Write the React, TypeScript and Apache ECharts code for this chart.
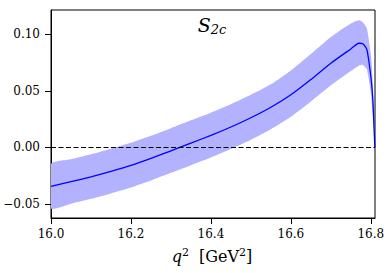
import React, { useEffect, useRef } from "react";
import * as echarts from "echarts";

const qSquared = [16.0, 16.05, 16.1, 16.15, 16.2, 16.25, 16.3, 16.35, 16.4, 16.45, 16.5, 16.55, 16.6, 16.65, 16.7, 16.75, 16.77, 16.78, 16.79, 16.8, 16.805, 16.81];
const central = [-0.0344, -0.0303, -0.026, -0.0212, -0.016, -0.0098, -0.003, 0.0038, 0.0106, 0.018, 0.0262, 0.0355, 0.0465, 0.06, 0.0744, 0.087, 0.092, 0.0915, 0.0866, 0.0626, 0.042, 0];
const upper = [-0.0147, -0.0105, -0.0061, -0.0012, 0.004, 0.0102, 0.017, 0.0239, 0.0307, 0.0381, 0.0464, 0.0557, 0.068, 0.0825, 0.0975, 0.1095, 0.1124, 0.1105, 0.105, 0.082, 0.056, 0];
const lower = [-0.0539, -0.0498, -0.0455, -0.0407, -0.0355, -0.0293, -0.0225, -0.0157, -0.0089, -0.0015, 0.0067, 0.016, 0.027, 0.0405, 0.0549, 0.0675, 0.0722, 0.0729, 0.069, 0.048, 0.028, 0];
const xTicks = [16.0, 16.2, 16.4, 16.6, 16.8];
const yTicks = [-0.05, 0, 0.05, 0.1];
const xRange = [16.0, 16.8104];
const yRange = [-0.0624, 0.1214];

const FONT = "DejaVu Serif";

export default function App() {
  const ref = useRef<HTMLDivElement>(null);
  useEffect(() => {
    if (!ref.current) return;
    const chart = echarts.init(ref.current, null, { renderer: "svg" });
    const fmtY = (v: number) => {
      const s = Math.abs(v).toFixed(2);
      return v < -1e-9 ? "\u2212" + s : s;
    };
    const bandRows = qSquared.map((x, i) => [x, lower[i], upper[i]]);
    chart.setOption({
      animation: false,
      textStyle: { fontFamily: FONT },
      grid: { left: 51, top: 10, right: 15, bottom: 55, show: true, borderColor: "#000", borderWidth: 1, backgroundColor: "transparent" },
      xAxis: {
        type: "value",
        min: xRange[0],
        max: xRange[1],
        axisLine: { show: true, onZero: false, lineStyle: { color: "#000", width: 1 } },
        axisTick: { show: true, length: 6, customValues: xTicks, lineStyle: { color: "#000" } },
        axisLabel: { customValues: xTicks, margin: 10, color: "#000", fontFamily: FONT, fontSize: 12, formatter: (v: number) => v.toFixed(1) },
        splitLine: { show: false },
      },
      yAxis: {
        type: "value",
        min: yRange[0],
        max: yRange[1],
        axisLine: { show: true, onZero: false, lineStyle: { color: "#000", width: 1 } },
        axisTick: { show: true, length: 6, customValues: yTicks, lineStyle: { color: "#000" } },
        axisLabel: { customValues: yTicks, margin: 11, color: "#000", fontFamily: FONT, fontSize: 12, formatter: fmtY },
        splitLine: { show: false },
      },
      graphic: [
        {
          type: "text",
          x: 212,
          y: 25,
          style: {
            text: "{s|S}{sub|2c}",
            align: "center",
            verticalAlign: "middle",
            rich: {
              s: { fontFamily: FONT, fontStyle: "italic", fontSize: 19, fill: "#000" },
              sub: { fontFamily: FONT, fontStyle: "italic", fontSize: 13, fill: "#000", padding: [9, 0, 0, 0] },
            },
          },
        },
        {
          type: "text",
          x: 212,
          y: 256,
          style: {
            text: "{q|q}{sup|2}{n|  [GeV}{sup|2}{n|]}",
            align: "center",
            verticalAlign: "middle",
            rich: {
              q: { fontFamily: FONT, fontStyle: "italic", fontSize: 16, fill: "#000" },
              n: { fontFamily: FONT, fontSize: 16, fill: "#000" },
              sup: { fontFamily: FONT, fontSize: 11, fill: "#000", padding: [0, 0, 8, 0] },
            },
          },
        },
      ],
      series: [
        {
          type: "custom",
          data: bandRows,
          silent: true,
          clip: true,
          z: 1,
          encode: { x: 0, y: [1, 2] },
          renderItem: (params: any, api: any) => {
            if (params.dataIndex !== 0) return null;
            const top: number[][] = [];
            const bot: number[][] = [];
            for (let i = 0; i < bandRows.length; i++) {
              top.push(api.coord([bandRows[i][0], bandRows[i][2]]));
              bot.push(api.coord([bandRows[i][0], bandRows[i][1]]));
            }
            const pts = top.concat(bot.reverse());
            return {
              type: "polygon",
              shape: { points: pts, smooth: 0.2 },
              style: { fill: "rgb(178,178,255)", stroke: "none" },
            };
          },
        },
        {
          type: "line",
          data: qSquared.map((x, i) => [x, central[i]]),
          showSymbol: false,
          smooth: 0.2,
          lineStyle: { color: "#0000ff", width: 1.3 },
          z: 3,
          markLine: {
            silent: true,
            symbol: "none",
            label: { show: false },
            lineStyle: { color: "#000", type: [5, 2.5], width: 1.2 },
            data: [{ yAxis: 0 }],
          },
        },
      ],
    });
    return () => chart.dispose();
  }, []);
  return <div ref={ref} style={{ width: 390, height: 273, position: "absolute", left: 0, top: 0 }} />;
}
